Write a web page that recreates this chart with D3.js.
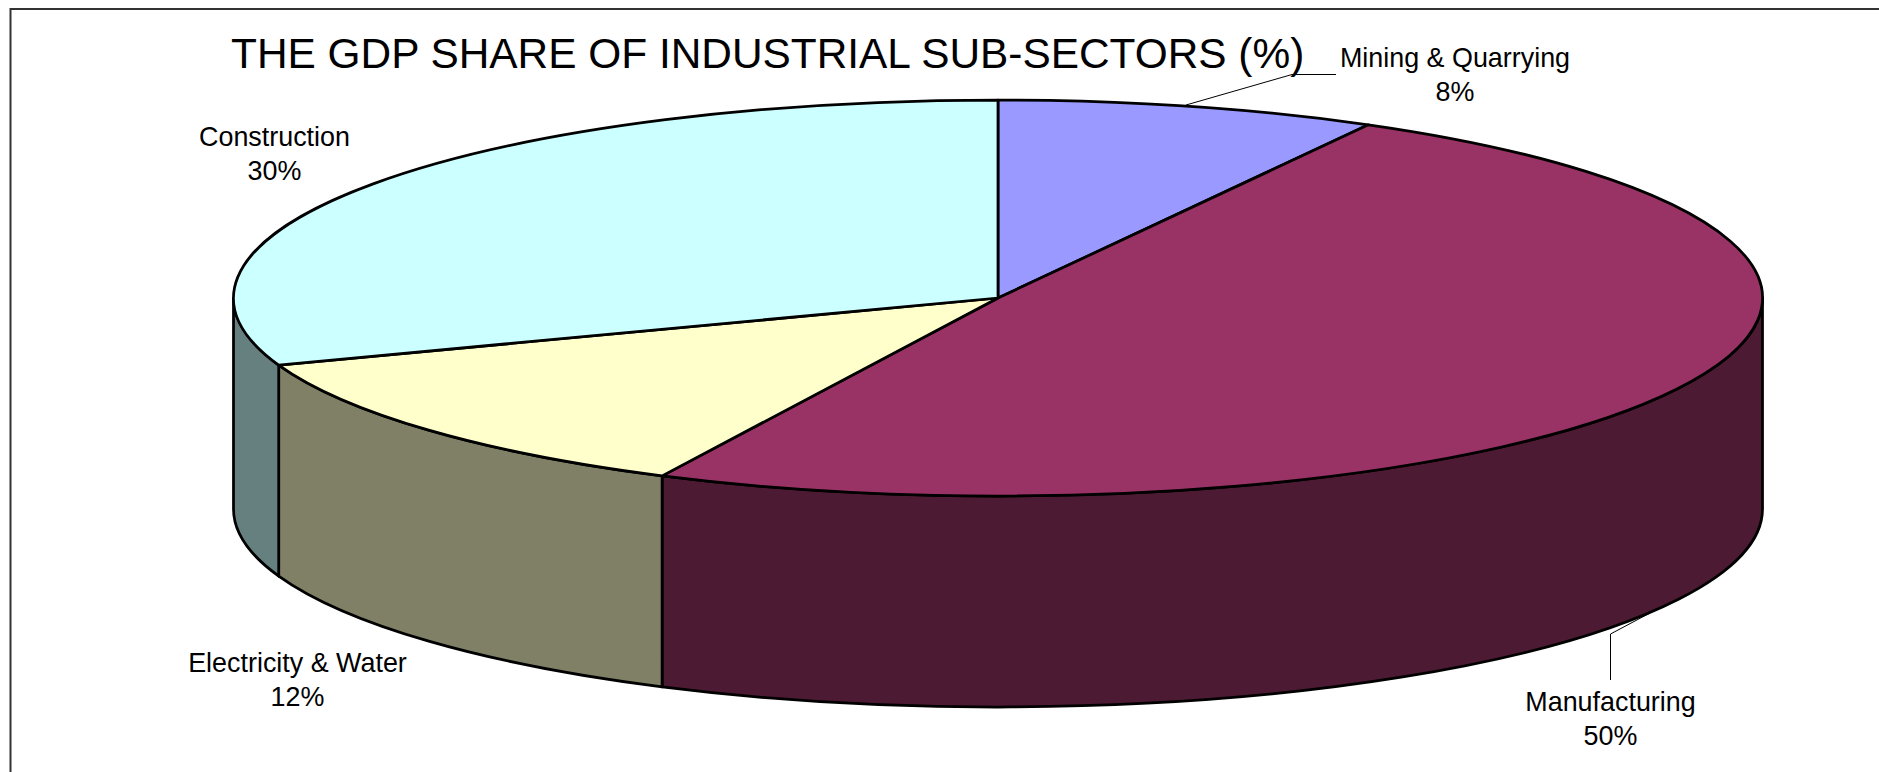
<!DOCTYPE html>
<html>
<head>
<meta charset="utf-8">
<script src="https://cdn.jsdelivr.net/npm/d3@7"></script>
<style>
    html, body { margin: 0; padding: 0; background: #fff; overflow: hidden; }
    svg { display: block; }
    text { font-family: "Liberation Sans", Arial, sans-serif; fill: #000; }
</style>
</head>
<body>
<div id="chart"></div>
<script>
var chartTitle = "THE GDP SHARE OF INDUSTRIAL SUB-SECTORS (%)";
var categories = ["Mining & Quarrying", "Manufacturing", "Electricity & Water", "Construction"];
var shares = [8.05, 49.19, 12.26, 30.5];
var shareLabels = ["8%", "50%", "12%", "30%"];
var topColors = ["#9999FF", "#993366", "#FFFFCC", "#CCFFFF"];

var width = 1879, height = 772;
var cx = 998, cy = 298, rx = 764.5, ry = 198, depth = 211;

var svg = d3.select("#chart").append("svg")
    .attr("width", width)
    .attr("height", height);

// chart frame, runs off the right and bottom of the page
svg.append("rect")
    .attr("x", 10.5)
    .attr("y", 9)
    .attr("width", width)
    .attr("height", height)
    .attr("fill", "#fff")
    .attr("stroke", "#333")
    .attr("stroke-width", 2);

var pie = d3.pie().sort(null).value(function (d) { return d.value; });
var slices = pie(categories.map(function (c, i) {
    return { name: c, value: shares[i], label: shareLabels[i], color: topColors[i] };
}));

// angle is clockwise from the top, same as d3.pie
function px(a) { return cx + rx * Math.sin(a); }
function py(a) { return cy - ry * Math.cos(a); }

function topPath(d) {
    var large = d.endAngle - d.startAngle > Math.PI ? 1 : 0;
    return "M" + cx + "," + cy
        + "L" + px(d.startAngle) + "," + py(d.startAngle)
        + "A" + rx + "," + ry + " 0 " + large + " 1 " + px(d.endAngle) + "," + py(d.endAngle)
        + "Z";
}

function sidePath(d) {
    // only the front half of the rim can be seen
    var a0 = Math.max(d.startAngle, Math.PI / 2);
    var a1 = Math.min(d.endAngle, 3 * Math.PI / 2);
    if (a1 <= a0) return null;
    return "M" + px(a0) + "," + py(a0)
        + "A" + rx + "," + ry + " 0 0 1 " + px(a1) + "," + py(a1)
        + "L" + px(a1) + "," + (py(a1) + depth)
        + "A" + rx + "," + ry + " 0 0 0 " + px(a0) + "," + (py(a0) + depth)
        + "Z";
}

var pieG = svg.append("g")
    .attr("stroke", "#000")
    .attr("stroke-width", 2.75)
    .attr("stroke-linejoin", "round");

pieG.selectAll(".side")
    .data(slices.filter(function (d) { return sidePath(d) !== null; }))
    .enter().append("path")
    .attr("class", "side")
    .attr("d", sidePath)
    .attr("fill", function (d) {
        var c = d3.rgb(d.data.color);
        return d3.rgb(c.r * 0.5, c.g * 0.5, c.b * 0.5);
    });

pieG.selectAll(".top")
    .data(slices)
    .enter().append("path")
    .attr("class", "top")
    .attr("d", topPath)
    .attr("fill", function (d) { return d.data.color; });

// leader lines
var leaders = svg.append("g")
    .attr("fill", "none")
    .attr("stroke", "#000")
    .attr("stroke-width", 1);

leaders.append("polyline").attr("points", "1186,105 1292,74.5 1336,74.5");
leaders.append("polyline").attr("points", "1650,613 1610.5,634 1610.5,680");

// title
svg.append("text")
    .attr("x", 231)
    .attr("y", 68)
    .attr("font-size", 42.4)
    .text(chartTitle);

// data labels
var labelPos = [
    { x: 1455, y: 67 },
    { x: 1610.5, y: 711 },
    { x: 297.5, y: 672 },
    { x: 274.5, y: 146 }
];

var labels = svg.selectAll(".label")
    .data(slices)
    .enter().append("text")
    .attr("class", "label")
    .attr("text-anchor", "middle")
    .attr("font-size", 26.9)
    .attr("x", function (d, i) { return labelPos[i].x; })
    .attr("y", function (d, i) { return labelPos[i].y; });

labels.append("tspan")
    .text(function (d) { return d.data.name; });

labels.append("tspan")
    .attr("x", function (d, i) { return labelPos[i].x; })
    .attr("dy", 33.5)
    .text(function (d) { return d.data.label; });
</script>
</body>
</html>
